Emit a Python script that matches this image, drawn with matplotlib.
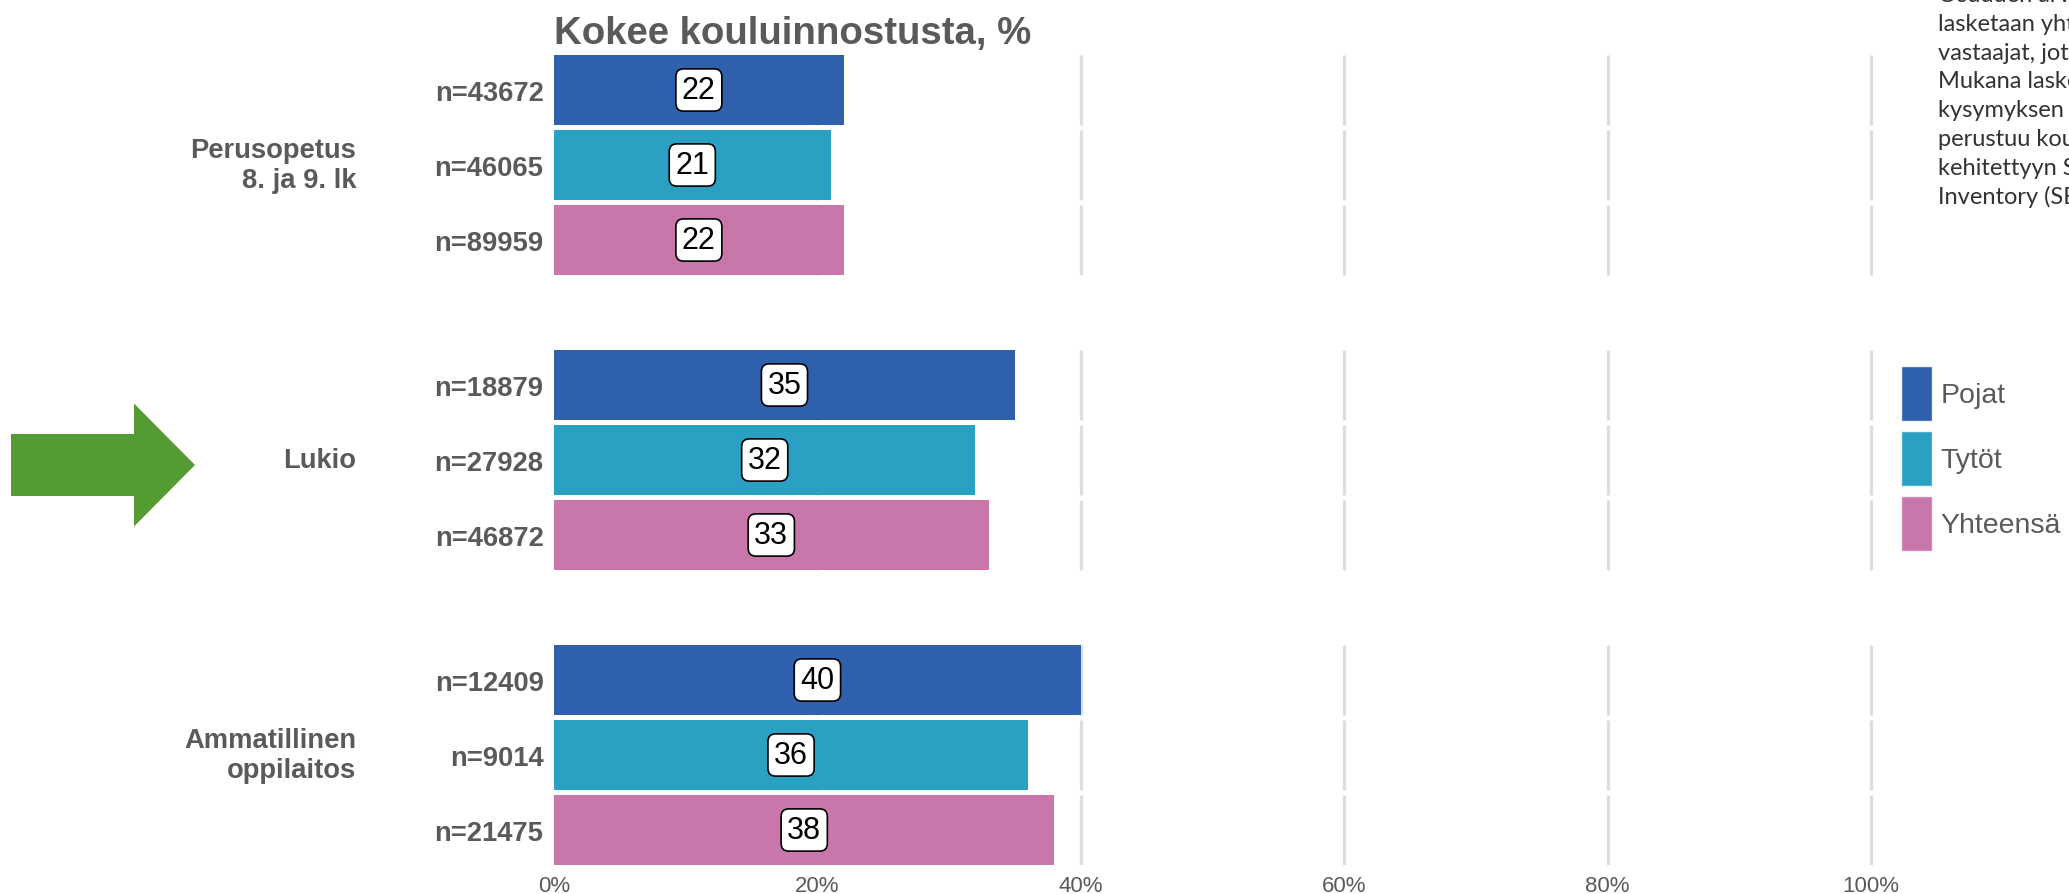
import matplotlib
matplotlib.use("Agg")
import matplotlib.pyplot as plt
import matplotlib.patches as mpatches
from matplotlib.transforms import Affine2D, blended_transform_factory

# ---------------- data ----------------
groups = ["Perusopetus\n8. ja 9. lk", "Lukio", "Ammatillinen\noppilaitos"]
series = ["Pojat", "Tytöt", "Yhteensä"]
values = [[22, 21, 22],
          [35, 32, 33],
          [40, 36, 38]]
n_labels = [["n=43672", "n=46065", "n=89959"],
            ["n=18879", "n=27928", "n=46872"],
            ["n=12409", "n=9014", "n=21475"]]
x_ticks = [0, 20, 40, 60, 80, 100]
x_ticklabels = ["0%", "20%", "40%", "60%", "80%", "100%"]
title = "Kokee kouluinnostusta, %"
note_lines = ["Osuuden arvioinnissa",
              "lasketaan yhteen",
              "vastaajat, jotka",
              "Mukana laskennassa",
              "kysymyksen osioihin",
              "perustuu kouluinnostusta",
              "kehitettyyn Schoolwork",
              "Inventory (SEI)"]

colors = ["#2F60AC", "#2AA0C2", "#C977AB"]
gray = "#5A5A5A"
grid_col = "#DEDEDE"
arrow_col = "#549B31"

W, H = 2069, 895
fig = plt.figure(figsize=(W / 100, H / 100), dpi=100)
fig.patch.set_facecolor("white")

bar_h = 0.933
group_step = 3 + bar_h

# axes placement (pixels)
px_per_pct = 13.17
x0_px = 554
xmax = 102
ax_left = x0_px / W
ax_width = xmax * px_per_pct / W
top_px, bot_px = 56, 866
ax = fig.add_axes([ax_left, (H - bot_px) / H, ax_width, (bot_px - top_px) / H])

ypos = []
ylabels = []
for gi, grp in enumerate(groups):
    for si in range(len(series)):
        y = gi * group_step + si
        ypos.append(y)
        ylabels.append(n_labels[gi][si])
        # grid segments for this row
        ax.vlines(x_ticks[1:], y - bar_h / 2, y + bar_h / 2, colors=grid_col,
                  linewidth=2.3, zorder=1)
        ax.barh(y, values[gi][si], height=bar_h, color=colors[si], zorder=2)
        ax.text(values[gi][si] / 2, y, str(values[gi][si]), ha="center", va="center",
                fontsize=22, family="Liberation Sans", color="black", zorder=4,
                bbox=dict(boxstyle="round,pad=0.2,rounding_size=0.25", fc="white",
                          ec="black", lw=1.2))

ax.set_xlim(0, xmax)
ax.set_ylim(ypos[-1] + bar_h / 2, ypos[0] - bar_h / 2)
ax.set_yticks(ypos)
ax.set_yticklabels(ylabels, fontsize=19.7, fontweight="bold", color=gray,
                   family="Liberation Sans")
ax.set_xticks(x_ticks)
ax.set_xticklabels(x_ticklabels, fontsize=16, color=gray, family="Liberation Sans")
ax.tick_params(axis="y", length=0, pad=7.5)
ax.tick_params(axis="x", length=0, pad=7.5)
for s in ax.spines.values():
    s.set_visible(False)
ax.set_facecolor("none")

# group labels
trans = blended_transform_factory(fig.transFigure, ax.transData)
for gi, grp in enumerate(groups):
    yc = gi * group_step + 1
    ax.text(356 / W, yc, grp, transform=trans, ha="right", va="center",
            fontsize=19.7, fontweight="bold", color=gray, family="Liberation Sans",
            linespacing=1.2)

# title
fig.text(554 / W, 1 - 44 / H, title, ha="left", va="baseline", fontsize=27.6,
         fontweight="bold", color=gray, family="Liberation Sans")

# legend
handles = [mpatches.Patch(facecolor=c, edgecolor="#F2F2F2", linewidth=1) for c in colors]
leg = fig.legend(handles, series, loc="upper left", bbox_to_anchor=(1901 / W, 1 - 367 / H),
                 frameon=False, borderpad=0, borderaxespad=0, handlelength=1.08,
                 handleheight=2.62, labelspacing=0.33, handletextpad=0.32,
                 prop={"family": "Liberation Sans", "size": 20.5})
for t in leg.get_texts():
    t.set_color(gray)

# note text at top right (cut off by the figure edge, as in the original)
for i, line in enumerate(note_lines):
    fig.text(1938 / W, 1 - (2 + i * 28.8) / H, line, ha="left", va="baseline",
             fontsize=17, color="#333333", family="Lato")

# green arrow
pix = Affine2D().scale(1 / W, -1 / H).translate(0, 1) + fig.transFigure
arrow = mpatches.FancyArrow(11, 466, 184, 0, width=62, head_width=123, head_length=61,
                            length_includes_head=True, color=arrow_col, transform=pix,
                            linewidth=0)
fig.patches.append(arrow)

fig.savefig("out.png", dpi=100, facecolor="white")
